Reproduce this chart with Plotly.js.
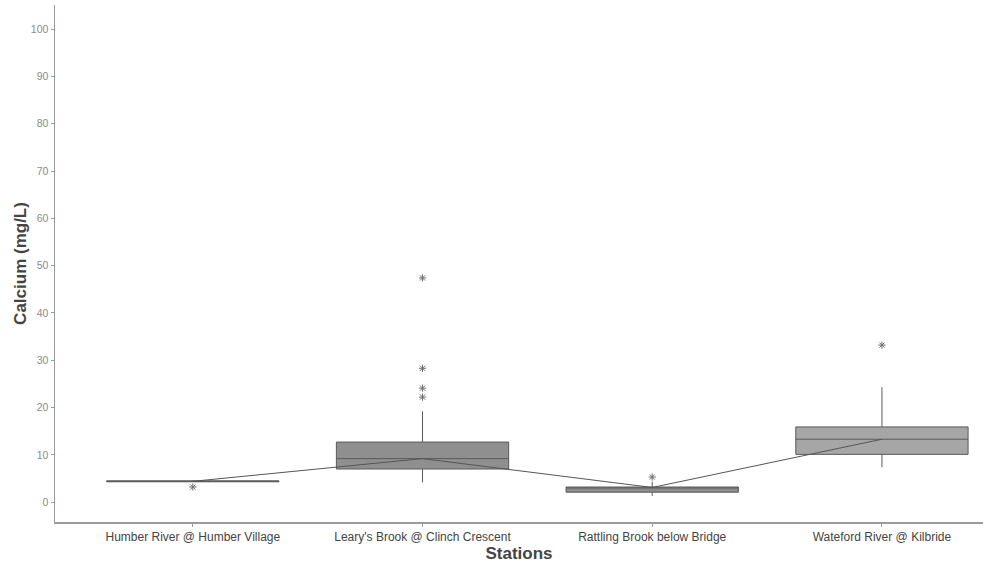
<!DOCTYPE html>
<html>
<head>
<meta charset="utf-8">
<script src="https://cdn.plot.ly/plotly-3.0.1.min.js"></script>
<style>
  html, body { margin: 0; padding: 0; background: #ffffff; }
  #chart { width: 983px; height: 564px; }
</style>
</head>
<body>
<div id="chart"></div>
<script>
// Calcium summary statistics per sampling station (mg/L)
const stations = [
  "Humber River @ Humber Village",
  "Leary's Brook @ Clinch Crescent",
  "Rattling Brook below Bridge",
  "Wateford River @ Kilbride"
];
const lowerWhisker = [4.3, 4.2, 1.3, 7.4];
const q1Values     = [4.3, 7.0, 2.1, 10.1];
const medianValues = [4.4, 9.2, 3.1, 13.3];
const q3Values     = [4.5, 12.7, 3.2, 15.9];
const upperWhisker = [4.6, 19.2, 4.3, 24.3];
const boxFills     = ["#8a8a8a", "#8f8f8f", "#8c8c8c", "#a6a6a6"];

// Outlying observations
const outlierStation = [
  "Humber River @ Humber Village",
  "Leary's Brook @ Clinch Crescent",
  "Leary's Brook @ Clinch Crescent",
  "Leary's Brook @ Clinch Crescent",
  "Leary's Brook @ Clinch Crescent",
  "Rattling Brook below Bridge",
  "Wateford River @ Kilbride"
];
const outlierValue = [3.2, 47.4, 28.3, 24.1, 22.2, 5.3, 33.2];

const traces = stations.map((s, i) => ({
  type: "box",
  x: [s],
  q1: [q1Values[i]],
  median: [medianValues[i]],
  q3: [q3Values[i]],
  lowerfence: [lowerWhisker[i]],
  upperfence: [upperWhisker[i]],
  width: 0.75,
  whiskerwidth: 0,
  fillcolor: boxFills[i],
  line: { color: "#5a5a5a", width: 1 },
  boxpoints: false,
  hoverinfo: "y",
  showlegend: false
}));

// Outlier markers
traces.push({
  type: "scatter",
  mode: "markers",
  x: outlierStation,
  y: outlierValue,
  marker: { symbol: "asterisk-open", size: 6, color: "#707070", line: { color: "#707070", width: 1 } },
  showlegend: false,
  hoverinfo: "y"
});

// Line joining the station medians
traces.push({
  type: "scatter",
  mode: "lines",
  x: stations,
  y: medianValues,
  line: { color: "#555555", width: 1 },
  showlegend: false,
  hoverinfo: "skip"
});

const layout = {
  width: 983,
  height: 564,
  margin: { l: 55, r: 0, t: 5, b: 42 },
  paper_bgcolor: "#ffffff",
  plot_bgcolor: "#ffffff",
  font: { family: "Liberation Sans, Arial, sans-serif", color: "#444444" },
  xaxis: {
    type: "category",
    categoryorder: "array",
    categoryarray: stations,
    range: [-0.6, 3.44],
    showgrid: false,
    zeroline: false,
    showline: true,
    linecolor: "#9a9a9a",
    linewidth: 1.5,
    ticks: "outside",
    ticklen: 3,
    tickcolor: "#9a9a9a",
    tickfont: { size: 12, color: "#444444" },
    title: { text: "<b>Stations</b>", font: { size: 17, color: "#444444" }, standoff: 2 }
  },
  yaxis: {
    range: [-4.2, 105.1],
    tickvals: [0, 10, 20, 30, 40, 50, 60, 70, 80, 90, 100],
    showgrid: false,
    zeroline: false,
    showline: true,
    linecolor: "#9a9a9a",
    linewidth: 1.5,
    ticks: "outside",
    ticklen: 3,
    tickcolor: "#9a9a9a",
    tickfont: { size: 10.5, color: "#8a8a8a" },
    title: { text: "<b>Calcium (mg/L)</b>", font: { size: 17, color: "#444444" }, standoff: 0 }
  }
};

Plotly.newPlot("chart", traces, layout, { displayModeBar: false, staticPlot: true });
</script>
</body>
</html>
